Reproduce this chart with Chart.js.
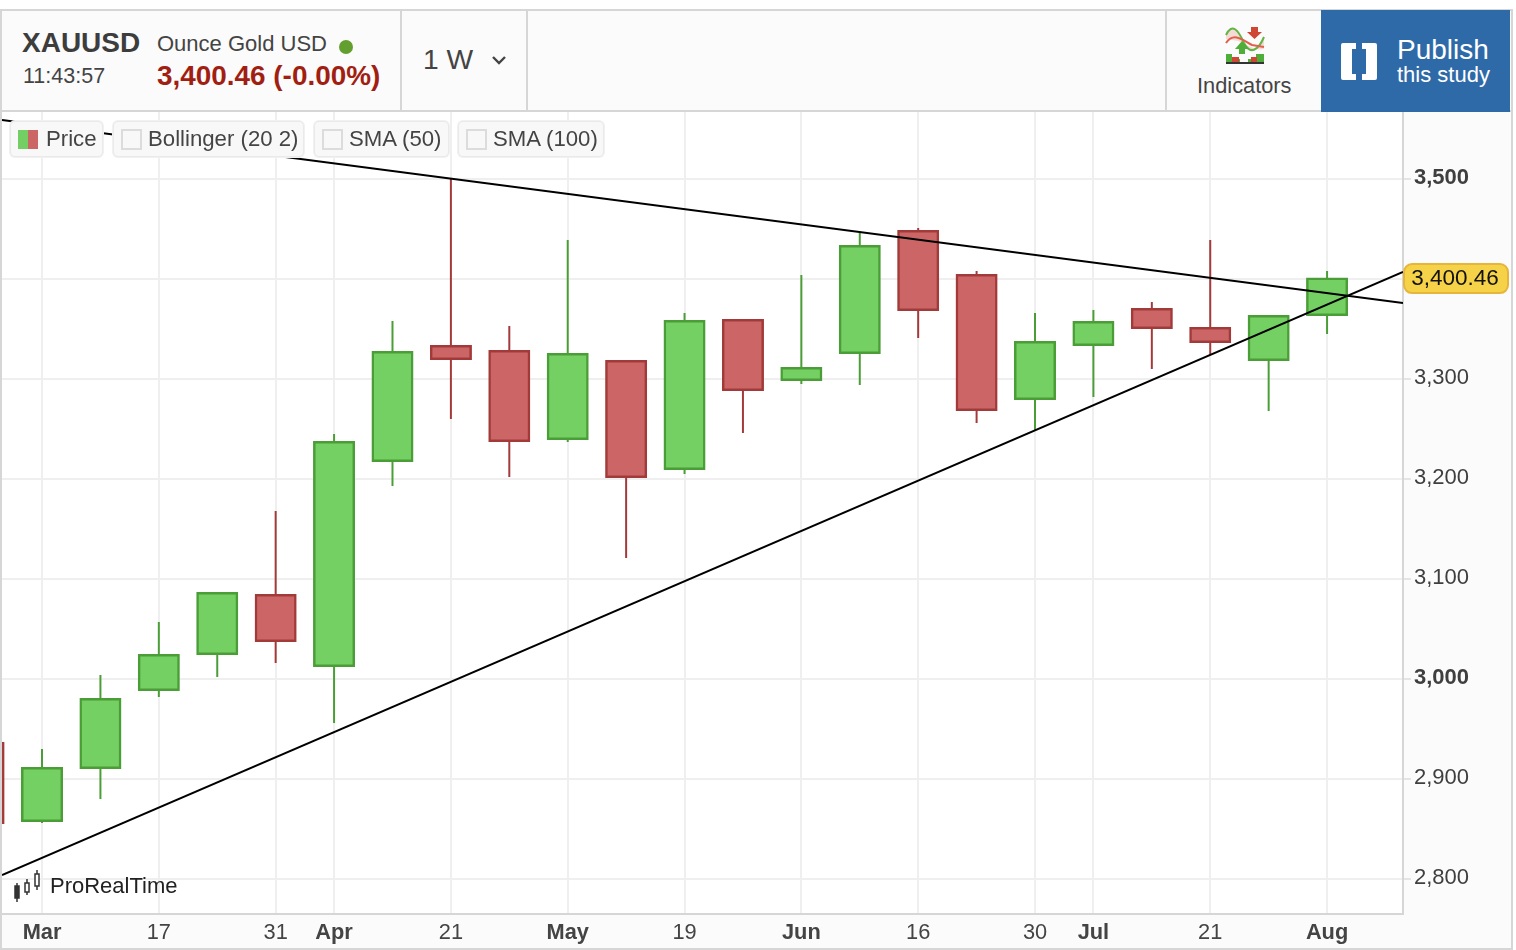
<!DOCTYPE html>
<html>
<head>
<meta charset="utf-8">
<title>XAUUSD</title>
<script src="https://cdn.jsdelivr.net/npm/chart.js@4"></script>
<style>
html,body{margin:0;padding:0;background:#fff;width:1516px;height:950px;overflow:hidden;font-family:"Liberation Sans",Arial,sans-serif;color:#3f3f3f}
.abs{position:absolute;white-space:nowrap}
#frame{left:0;top:9px;width:1509px;height:937px;border:2px solid #d6d6d6;z-index:0;background:#fff}
#bandR{left:1404px;top:112px;width:107px;height:836px;background:#fbfbfb;z-index:0}
#bandB{left:2px;top:915px;width:1402px;height:33px;background:#fbfbfb;z-index:0}
canvas{position:absolute;left:0;top:0;z-index:1}
#head{left:2px;top:11px;width:1509px;height:99px;background:#fbfbfb;border-bottom:2px solid #d6d6d6;z-index:2}
.div{top:11px;width:2px;height:99px;background:#d6d6d6;z-index:3}
.t{z-index:3}
.chip{top:121px;height:34px;background:#f8f8f8;border:1px solid #eaeaea;border-radius:5px;z-index:3;font-size:22.2px;line-height:34px;color:#444;box-shadow:0 0 0 1px #f1f1f1}
.box{position:absolute;left:7px;top:7px;width:17px;height:17px;border:2px solid #dcdcdc;background:#f8f8f8}
</style>
</head>
<body>
<div class="abs" id="frame"></div>
<div class="abs" id="bandR"></div>
<div class="abs" id="bandB"></div>
<canvas id="c" width="1516" height="950"></canvas>

<div class="abs" id="head"></div>
<div class="abs div" style="left:400px"></div>
<div class="abs div" style="left:526px"></div>
<div class="abs div" style="left:1165px"></div>
<div class="abs t" style="left:22px;top:27px;font-size:28px;font-weight:700;color:#3d3d3d">XAUUSD</div>
<div class="abs t" style="left:23px;top:64px;font-size:21.5px;color:#444">11:43:57</div>
<div class="abs t" style="left:157px;top:31px;font-size:22px;color:#444">Ounce Gold USD</div>
<div class="abs t" style="left:339px;top:40px;width:14px;height:14px;border-radius:50%;background:#639f2e"></div>
<div class="abs t" style="left:157px;top:60px;font-size:27.9px;font-weight:700;color:#a11f12">3,400.46 (-0.00%)</div>
<div class="abs t" style="left:423px;top:43px;font-size:28.2px;color:#444">1 W</div>
<svg class="abs t" style="left:491px;top:54px" width="16" height="12"><path d="M2 3 L8 9 L14 3" fill="none" stroke="#444" stroke-width="2.4"/></svg>
<svg class="abs t" style="left:1224px;top:25px" width="42" height="42" viewBox="0 0 42 42">
<path d="M2 10 C8 -2 14 4 20 18 C26 30 34 26 40 12 L40 24 C32 26 24 20 14 16 L2 14Z" fill="#f3dcd6"/>
<path d="M2 10 C8 -2 14 4 20 18 C26 30 34 26 40 12" fill="none" stroke="#62b545" stroke-width="2"/>
<path d="M2 18 C10 6 20 16 28 20 L40 22" fill="none" stroke="#e0604c" stroke-width="2"/>
<path d="M27 2h7v5h4l-7.500 7-7.500-7h4z" fill="#cf4634"/>
<path d="M11 24l7-8 7 8h-4v5h-6v-5z" fill="#4fae3a"/>
<path d="M2 29h6v5h8v3h8v-3h8v-5h8v8H2z" fill="#4fae3a"/>
<rect x="8" y="32" width="7" height="6" fill="#cf4634"/><rect x="27" y="32" width="6" height="6" fill="#cf4634"/>
<rect x="2" y="37" width="38" height="2" fill="#333"/>
</svg>
<div class="abs t" style="left:1197px;top:73px;font-size:21.8px;color:#444">Indicators</div>
<div class="abs t" style="left:1321px;top:10px;width:189px;height:102px;background:#2f6aa8"></div>
<svg class="abs t" style="left:1340px;top:43px" width="38" height="37" viewBox="0 0 38 37">
<path d="M1 2Q1 0 3 0H16V6H12V31H16V37H3Q1 37 1 35ZM37 2Q37 0 35 0H22V6H26V31H22V37H35Q37 37 37 35Z" fill="#fff"/></svg>
<div class="abs t" style="left:1397px;top:34px;font-size:28px;color:#fff">Publish</div>
<div class="abs t" style="left:1397px;top:62px;font-size:22px;color:#fff">this study</div>

<div class="abs chip" style="left:10px;width:91px"><span style="position:absolute;left:7px;top:8px;width:10px;height:19px;background:#73cf63"></span><span style="position:absolute;left:17px;top:8px;width:10px;height:19px;background:#cc6666"></span><span style="position:absolute;left:35px">Price</span></div>
<div class="abs chip" style="left:113px;width:189px"><span class="box"></span><span style="position:absolute;left:34px">Bollinger (20 2)</span></div>
<div class="abs chip" style="left:314px;width:133px"><span class="box"></span><span style="position:absolute;left:34px">SMA (50)</span></div>
<div class="abs chip" style="left:458px;width:144px"><span class="box"></span><span style="position:absolute;left:34px">SMA (100)</span></div>

<svg class="abs t" style="left:13px;top:870px" width="30" height="33"><g fill="#333" stroke="#333" stroke-width="1.500">
<path d="M4 13V32M14 9V25M24 0V20" fill="none"/><rect x="2" y="16" width="4" height="12"/><rect x="12" y="13" width="4" height="9" fill="#fff"/><rect x="22" y="4" width="4" height="12" fill="#fff"/></g></svg>
<div class="abs t" style="left:50px;top:873px;font-size:22px;color:#222">ProRealTime</div>

<script>
// One row per week, left to right; index 0 is the candle cut off at the left edge.
const candleIndex = [0,1,2,3,4,5,6,7,8,9,10,11,12,13,14,15,16,17,18,19,20,21,22,23];
const opens  = [2936,2858,2911,2989,3025,3084,3013,3218,3333,3328,3240,3318,3210,3359,3299,3326,3448,3404,3280,3334,3370,3351,3319,3364];
const closes = [2856,2911,2980,3024,3086,3038,3237,3327,3320,3238,3325,3202,3358,3289,3311,3433,3369,3269,3337,3357,3351,3337,3363,3400.46];
const highs  = [2936,2930,3004,3057,3086,3168,3245,3358,3500,3353,3439,3318,3366,3359,3404,3446,3451,3408,3366,3369,3377,3439,3363,3408];
const lows   = [2856,2856,2880,2982,3002,3016,2956,3193,3260,3202,3237,3121,3205,3246,3295,3294,3341,3256,3248,3282,3310,3324,3268,3345];

const xTickIndex  = [1,3,5,6,8,10,12,14,16,18,19,21,23];
const xTickLabels = ['Mar','17','31','Apr','21','May','19','Jun','16','30','Jul','21','Aug'];
const yTickValues = [2800,2900,3000,3100,3200,3300,3400,3500];
const yBoldTicks  = [3000,3500];

const xRange = [0.315,24.3];
const yRange = [2765,3567];
const trendUpper = [3559,3376];
const trendLower = [2804,3407];
const lastPrice = 3400.46;

const GREEN='#74d063', GREEN_D='#4b9e37', RED='#cc6666', RED_D='#a33a3a';
const up = candleIndex.map(i=>closes[i]>=opens[i]);
const fam='"Liberation Sans", Arial, sans-serif';

const priceTag={id:'priceTag',afterDraw(chart){
  const c=chart.ctx, y=chart.scales.y.getPixelForValue(lastPrice), x=chart.chartArea.right+1;
  c.save();
  c.beginPath(); c.roundRect(x,y-14.500,104,29,8);
  c.fillStyle='#f5d247'; c.fill(); c.lineWidth=2; c.strokeStyle='#e6b63c'; c.stroke();
  c.fillStyle='#111'; c.font='22.5px '+fam; c.textAlign='center'; c.textBaseline='middle';
  c.fillText(lastPrice.toLocaleString('en-US',{minimumFractionDigits:2}),x+51,y);
  c.restore();
}};

// Tick labels sit 1px above the gridline in the reference.
function liftLabels(s){
  if(s._lifted) return;
  s._lifted=true;
  const base=s._computeLabelItems;
  s._computeLabelItems=function(area){
    const items=base.call(this,area);
    items.forEach(it=>{it.options.translation=[it.options.translation[0],it.options.translation[1]-1];});
    return items;
  };
}

new Chart(document.getElementById('c'),{
  type:'bar',
  plugins:[priceTag],
  data:{datasets:[
    {type:'line',order:1,data:[{x:xRange[0],y:trendUpper[0]},{x:xRange[1],y:trendUpper[1]}],borderColor:'#000',borderWidth:2,pointRadius:0,tension:0},
    {type:'line',order:1,data:[{x:xRange[0],y:trendLower[0]},{x:xRange[1],y:trendLower[1]}],borderColor:'#000',borderWidth:2,pointRadius:0,tension:0},
    {order:2,grouped:false,barThickness:40,borderWidth:2.5,borderSkipped:false,inflateAmount:1,
     data:candleIndex.map(i=>({x:i,y:[opens[i],closes[i]]})),
     backgroundColor:up.map(u=>u?GREEN:RED),borderColor:up.map(u=>u?GREEN_D:RED_D)},
    {order:3,grouped:false,barThickness:2,borderWidth:0,inflateAmount:0,
     data:candleIndex.map(i=>({x:i,y:[lows[i],highs[i]]})),
     backgroundColor:up.map(u=>u?GREEN_D:RED_D)}
  ]},
  options:{
    responsive:false,animation:false,devicePixelRatio:1,
    layout:{padding:{left:2,right:5,top:112,bottom:2}},
    plugins:{legend:{display:false},tooltip:{enabled:false}},
    scales:{
      x:{type:'linear',min:xRange[0],max:xRange[1],offset:false,
        afterFit(s){s.height=34;},
        afterBuildTicks(s){s.ticks=xTickIndex.map(v=>({value:v}));},
        grid:{offset:false,color:'#efefef',lineWidth:2,drawTicks:false},
        border:{color:'#d6d6d6',width:2},
        ticks:{autoSkip:false,maxRotation:0,padding:6,color:'#444',
          callback(v){return xTickLabels[xTickIndex.indexOf(v)];},
          font(ctx){const l=xTickLabels[ctx.index];const num=/^\d/.test(l||'');return {family:fam,size:num?21.8:21.8,weight:num?'normal':'bold'};}}
      },
      y:{type:'linear',position:'right',min:yRange[0],max:yRange[1],
        afterFit(s){s.width=108;liftLabels(s);},
        afterBuildTicks(s){s.ticks=yTickValues.map(v=>({value:v}));},
        grid:{color:'#efefef',lineWidth:2,tickLength:8,tickColor:'#e4e4e4'},
        border:{color:'#d6d6d6',width:2},
        ticks:{autoSkip:false,padding:3,color:'#3f3f3f',
          callback(v){return v.toLocaleString('en-US');},
          font(ctx){const v=yTickValues[ctx.index];return {family:fam,size:22,weight:yBoldTicks.includes(v)?'bold':'normal'};}}
      }
    }
  }
});
</script>
</body>
</html>
